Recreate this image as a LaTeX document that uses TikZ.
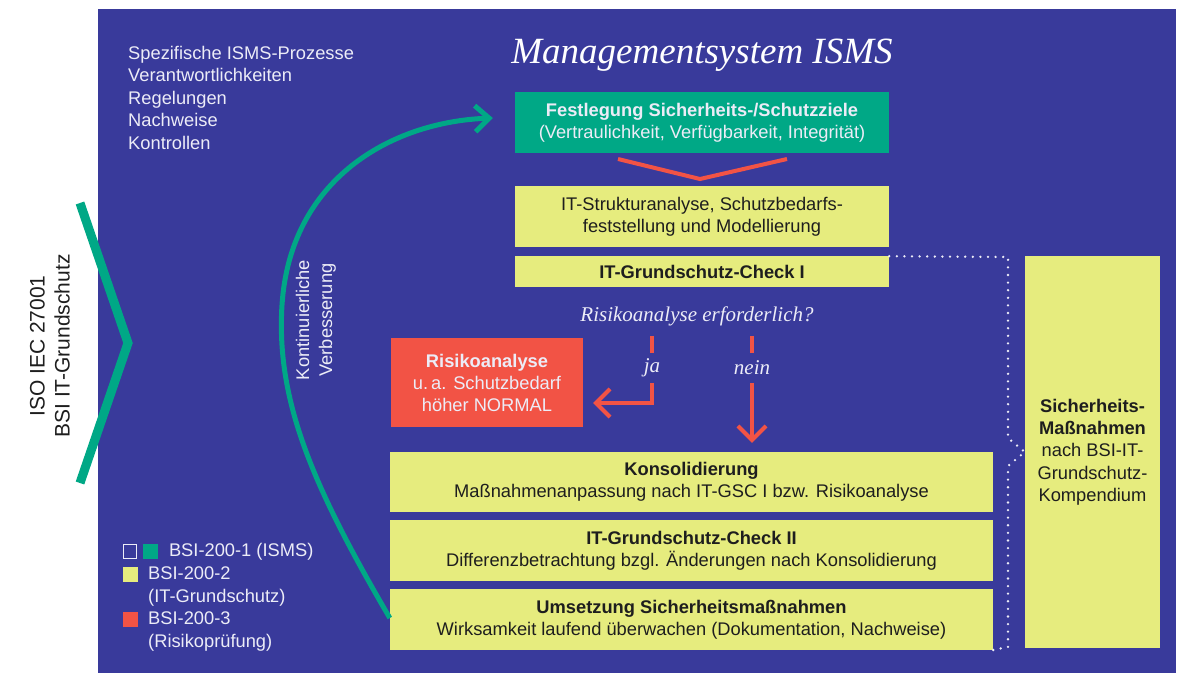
\documentclass[tikz,border=0pt]{standalone}
\usepackage{fontspec}
\setmainfont{Liberation Sans}
\newfontfamily\kursiv{Liberation Serif}
\usetikzlibrary{positioning,arrows.meta}
\definecolor{isblau}{HTML}{393A9B}
\definecolor{isgruen}{HTML}{00A886}
\definecolor{isgelb}{HTML}{E6EC7E}
\definecolor{isrot}{HTML}{F25345}
\definecolor{isweiss}{HTML}{ECECF7}
\definecolor{istext}{HTML}{1E1E1E}
\newcommand\grund{\fontsize{18.3}{22}\selectfont}
\tikzset{
box/.style={rectangle, inner sep=0pt, align=center, font=\grund},
gelbbox/.style={box, fill=isgelb, text=istext, minimum width=374pt, minimum height=61pt},
breitbox/.style={box, fill=isgelb, text=istext, minimum width=603pt, minimum height=61pt},
gruenbox/.style={box, fill=isgruen, text=isweiss, minimum width=374pt, minimum height=61pt},
rotbox/.style={box, fill=isrot, text=isweiss, minimum width=192pt, minimum height=89pt},
frage/.style={inner sep=0pt, text=isweiss, font=\kursiv\itshape\fontsize{21}{24}\selectfont},
legende/.style={anchor=west, inner sep=0pt, text=isweiss, font=\grund},
feld/.style={minimum size=15pt, inner sep=0pt},
rotpfeil/.style={draw=isrot, line width=4pt, -{Straight Barb[length=14pt,width=28pt]}},
rotlinie/.style={draw=isrot, line width=4pt},
punkte/.style={draw=isweiss, line width=2.6pt, line cap=round, dash pattern=on 0pt off 7.6pt},
}

\begin{document}
\begin{tikzpicture}[x=1pt, y=-1pt]
\useasboundingbox (0,0) rectangle (1183,673);
\fill[isblau] (98,9) rectangle (1176,673);

% links: Normen und Winkel
\draw[isgruen, line width=9pt] (80,203) -- (128,343) -- (80,483);
\node[rotate=90, align=center, inner sep=0pt, text=istext, font=\fontsize{21}{25}\selectfont] (normen) at (50,346) {ISO IEC 27001\\BSI IT-Grundschutz};

% Titel und Liste
\node[inner sep=0pt, text=white, font=\kursiv\itshape\fontsize{37}{40}\selectfont] (titel) at (702,55) {Managementsystem ISMS};
\node[anchor=north west, inner sep=0pt, align=left, text=isweiss, font=\fontsize{18.3}{22.5}\selectfont] (liste) at (128,46)
{Spezifische ISMS-Prozesse\\Verantwortlichkeiten\\Regelungen\\Nachweise\\Kontrollen};

% Prozesskette
\node[gruenbox] (ziele) at (702,122.5) {\textbf{Festlegung Sicherheits-/Schutzziele}\\(Vertraulichkeit, Verfügbarkeit, Integrität)};
\node[gelbbox] (struktur) at (702,216.5) {IT-Strukturanalyse, Schutzbedarfs-\\feststellung und Modellierung};
\node[gelbbox, minimum height=31pt, below=9pt of struktur] (check1) {\textbf{IT-Grundschutz-Check I}};
\draw[isrot, line width=4pt] (618,159) -- (700,179) -- (787,159);

\node[frage, minimum height=40pt] (frage) at (697,316) {Risikoanalyse erforderlich?};
\node[frage, minimum height=30pt] (ja) at (652,368) {ja};
\node[frage, minimum height=30pt] (nein) at (752,368) {nein};
\node[rotbox] (risiko) at (487,382.5) {\textbf{Risikoanalyse}\\u.\,a. Schutzbedarf\\höher NORMAL};

\node[breitbox, minimum height=60pt] (konsol) at (691.5,482) {\textbf{Konsolidierung}\\Maßnahmenanpassung nach IT-GSC I bzw. Risikoanalyse};
\node[breitbox, below=8pt of konsol] (check2) {\textbf{IT-Grundschutz-Check II}\\Differenzbetrachtung bzgl. Änderungen nach Konsolidierung};
\node[breitbox, below=7pt of check2] (umsetz) {\textbf{Umsetzung Sicherheitsmaßnahmen}\\Wirksamkeit laufend überwachen (Dokumentation, Nachweise)};

\node[box, fill=isgelb, text=istext, minimum width=135pt, minimum height=392pt, font=\fontsize{18.3}{22.3}\selectfont] (massn) at (1092.5,452)
{\textbf{Sicherheits-}\\\textbf{Maßnahmen}\\nach BSI-IT-\\Grundschutz-\\Kompendium};

% Verbindungen
\draw[rotlinie] (frage.south -| ja) -- (ja.north);
\draw[rotlinie] (frage.south -| nein) -- (nein.north);
\draw[rotpfeil] (ja.south) |- ([xshift=10pt,yshift=-20.5pt]risiko.east);
\draw[rotpfeil] (nein.south) -- ([yshift=9pt]konsol.north -| nein);
\draw[punkte] (check1.north east) -- (1008,257) -- (1008,438) -- (massn.west) -- (1008,466) -- (1008,647) -- (umsetz.south east);

% kontinuierliche Verbesserung
\draw[isgruen, line width=5pt, -{Straight Barb[length=14pt,width=26pt]}] (umsetz.west |- 0,618) .. controls (312,485) and (276,400) .. (282,305)
  .. controls (290,180) and (390,122) .. ([xshift=-22pt,yshift=4.5pt]ziele.west);
\node[rotate=90, align=center, inner sep=0pt, text=isweiss, font=\fontsize{18.3}{23}\selectfont] (verbess) at (316,320) {Kontinuierliche\\Verbesserung};

% Legende
\node[feld, draw=isweiss, line width=1.3pt, minimum size=13.5pt] (leer) at (130,551.5) {};
\node[feld, fill=isgruen, right=5pt of leer] (gruen) {};
\node[legende, right=11pt of gruen] (bsi1) {BSI-200-1 (ISMS)};
\node[feld, fill=isgelb] (gelb) at (130,574.5) {};
\node[legende, anchor=north west, align=left, font=\fontsize{18.3}{22.5}\selectfont] (bsi2) at (148,567) {BSI-200-2\\(IT-Grundschutz)};
\node[feld, fill=isrot] (rot) at (130,619.5) {};
\node[legende, anchor=north west, align=left, font=\fontsize{18.3}{22.5}\selectfont] (bsi3) at (148,612) {BSI-200-3\\(Risikoprüfung)};
\end{tikzpicture}
\end{document}
